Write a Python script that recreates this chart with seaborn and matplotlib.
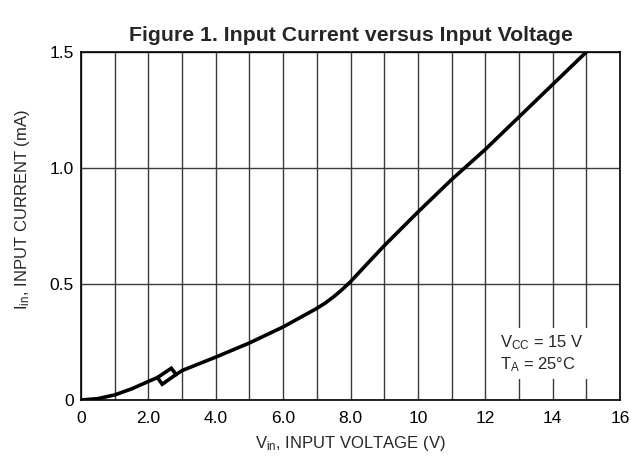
import matplotlib
matplotlib.use('Agg')
import matplotlib.pyplot as plt
import seaborn as sns
import pandas as pd

# main curve (V, mA)
vin = [0.0, 0.5, 1.0, 1.5, 2.0, 2.27, 2.68, 2.82, 3.0, 3.5, 4.0, 5.0, 6.0, 7.0,
       7.25, 7.5, 7.75, 8.0, 8.5, 9.0, 10.0, 11.0, 12.0, 13.0, 14.0, 15.0]
iin = [0.0, 0.006, 0.022, 0.048, 0.080, 0.097, 0.137, 0.110, 0.127, 0.156, 0.185,
       0.246, 0.315, 0.395, 0.418, 0.445, 0.476, 0.51, 0.588, 0.665, 0.81, 0.95,
       1.08, 1.22, 1.36, 1.50]

# small hysteresis loop near 2.5 V (closes the parallelogram)
loop_v = [2.82, 2.41, 2.27]
loop_i = [0.110, 0.068, 0.097]

x_ticks = [0, 2, 4, 6, 8, 10, 12, 14, 16]
x_labels = ['0', '2.0', '4.0', '6.0', '8.0', '10', '12', '14', '16']
y_ticks = [0, 0.5, 1.0, 1.5]
y_labels = ['0', '0.5', '1.0', '1.5']

sns.set_style('white')
plt.rcParams['font.family'] = ['Liberation Sans', 'DejaVu Sans']
plt.rcParams['mathtext.fontset'] = 'custom'

fig = plt.figure(figsize=(6.35, 4.66), dpi=100)
ax = fig.add_axes([0.1276, 0.1416, 0.8488, 0.7468])

# grid: every 1 V, every 0.5 mA
for v in range(0, 17):
    ax.axvline(v, color='#3a3a3a', lw=1.0, zorder=1)
for c in y_ticks:
    ax.axhline(c, color='#3a3a3a', lw=1.0, zorder=1)

curve = pd.DataFrame({'v': vin, 'i': iin})
sns.lineplot(data=curve, x='v', y='i', sort=False, estimator=None,
             color='black', lw=2.6, solid_joinstyle='miter', ax=ax, zorder=3)
loop = pd.DataFrame({'v': loop_v, 'i': loop_i})
sns.lineplot(data=loop, x='v', y='i', sort=False, estimator=None,
             color='black', lw=2.6, solid_joinstyle='miter', ax=ax, zorder=3)

ax.set_xlim(0, 16)
ax.set_ylim(0, 1.5)
ax.set_xticks(x_ticks)
ax.set_xticklabels(x_labels)
ax.set_yticks(y_ticks)
ax.set_yticklabels(y_labels)
ax.tick_params(axis='both', labelsize=12.5, length=0, colors='black')
ax.tick_params(axis='x', pad=8)
ax.tick_params(axis='y', pad=5)
for s in ax.spines.values():
    s.set_color('black')
    s.set_linewidth(1.2)

ax.set_xlabel(r'$\mathregular{V_{in}}$, INPUT VOLTAGE (V)', fontsize=12, labelpad=6)
ax.set_ylabel(r'$\mathregular{I_{in}}$, INPUT CURRENT (mA)', fontsize=12, labelpad=13)
ax.yaxis.label.set_y(0.546)
ax.set_title('Figure 1. Input Current versus Input Voltage', fontsize=15.3,
             fontweight='bold', pad=8)

ax.text(12.45, 0.20, r'$\mathregular{V_{CC}}$ = 15 V' + '\n' + r'$\mathregular{T_A}$ = 25°C',
        fontsize=12, va='center', ha='left', linespacing=1.3, zorder=4,
        bbox=dict(boxstyle='square,pad=0.3', fc='white', ec='none'))

fig.savefig('out.png', dpi=100)
